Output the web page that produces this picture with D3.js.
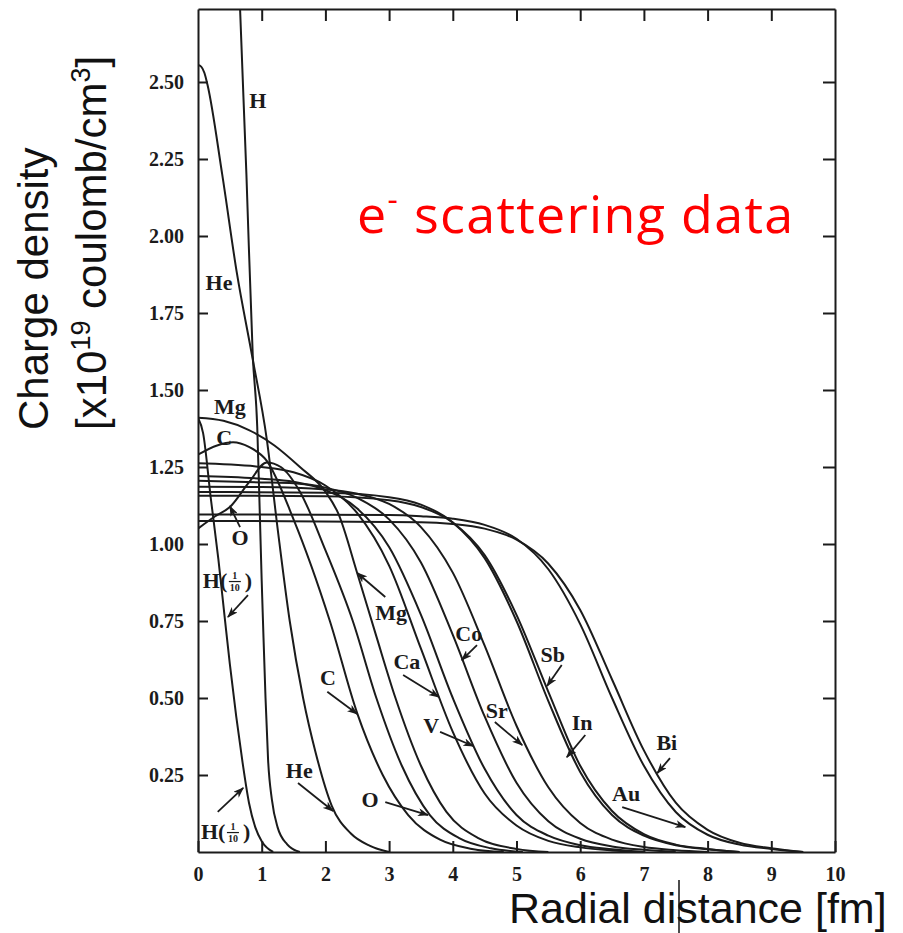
<!DOCTYPE html>
<html>
<head>
<meta charset="utf-8">
<script src="https://cdn.jsdelivr.net/npm/d3@7"></script>
<style>
  body { margin: 0; background: #fff; }
  svg { display: block; }
</style>
</head>
<body>
<svg id="chart"></svg>
<script>
// charge density in units of 1e19 C/cm^3 vs radial distance in fm
const xTickValues = [0, 1, 2, 3, 4, 5, 6, 7, 8, 9, 10];
const yTickValues = [0.25, 0.5, 0.75, 1.0, 1.25, 1.5, 1.75, 2.0, 2.25, 2.5];

const rhoH = [[0.6,3.1],[0.66,2.74],[0.76,2.2],[0.86,1.61],[0.93,1.38],[0.97,1.1],[1.0,0.88],[1.02,0.75],[1.06,0.5],[1.1,0.3],[1.16,0.17],[1.25,0.08],[1.4,0.025],[1.6,0]];
const rhoHtenth = [[0,1.41],[0.08,1.36],[0.2,1.15],[0.32,0.95],[0.42,0.76],[0.5,0.61],[0.6,0.44],[0.7,0.29],[0.8,0.16],[0.9,0.08],[1.0,0.035],[1.18,0]];
const rhoHe = [[0,2.555],[0.05,2.55],[0.1,2.53],[0.15,2.49],[0.38,2.2],[0.61,1.88],[0.85,1.61],[1.08,1.34],[1.25,1.05],[1.44,0.75],[1.65,0.5],[1.85,0.32],[2.1,0.15],[2.4,0.06],[2.7,0.02],[3.0,0]];
const rhoC = [[0,1.29],[0.3,1.32],[0.55,1.33],[0.8,1.315],[1.08,1.27],[1.5,1.08],[2.07,0.75],[2.5,0.45],[2.9,0.25],[3.3,0.12],[3.8,0.04],[4.3,0.01],[4.8,0]];
const rhoO = [[0,1.05],[0.27,1.09],[0.5,1.12],[0.8,1.2],[1.08,1.265],[1.3,1.25],[1.6,1.17],[2.0,0.98],[2.43,0.75],[2.8,0.5],[3.2,0.28],[3.64,0.12],[4.1,0.045],[4.6,0.012],[5.1,0]];
const rhoMg = [[0,1.41],[0.4,1.4],[0.8,1.37],[1.2,1.32],[1.6,1.25],[2.0,1.17],[2.2,1.1],[2.5,0.905],[2.8,0.7],[3.1,0.5],[3.5,0.28],[3.9,0.13],[4.4,0.045],[5.0,0.01],[5.5,0]];
const rhoCa = [[0,1.262],[1,1.25],[1.5,1.233],[2,1.19],[2.5,1.1],[3,0.93],[3.5,0.66],[4,0.39],[4.5,0.19],[5,0.086],[5.5,0.036],[6,0.015],[6.5,0.005],[7,0]];
const rhoV = [[0,1.221],[1,1.212],[1.5,1.202],[2,1.175],[2.5,1.115],[3,0.99],[3.5,0.77],[4,0.5],[4.5,0.27],[5,0.12],[5.5,0.053],[6,0.022],[6.5,0.009],[7,0]];
const rhoCo = [[0,1.205],[1,1.2],[1.5,1.197],[2,1.183],[2.5,1.15],[3,1.08],[3.5,0.94],[4,0.705],[4.5,0.44],[5,0.225],[5.5,0.1],[6,0.043],[6.5,0.018],[7,0.007],[7.5,0]];
const rhoSr = [[0,1.186],[1,1.185],[2,1.177],[2.5,1.163],[3,1.13],[3.5,1.055],[4,0.907],[4.5,0.67],[5,0.41],[5.5,0.21],[6,0.094],[6.5,0.04],[7,0.016],[7.5,0.006],[8,0]];
const rhoIn = [[0,1.169],[2,1.166],[3,1.152],[3.5,1.128],[4,1.07],[4.5,0.954],[5,0.75],[5.5,0.49],[6,0.26],[6.5,0.12],[7,0.053],[7.5,0.022],[8,0.009],[8.5,0]];
const rhoSb = [[0,1.157],[2,1.155],[3,1.142],[3.5,1.12],[4,1.07],[4.5,0.964],[5,0.77],[5.5,0.52],[6,0.28],[6.5,0.133],[7,0.058],[7.5,0.024],[8,0.01],[8.5,0]];
const rhoAu = [[0,1.096],[3,1.094],[3.5,1.09],[4,1.082],[4.5,1.062],[5,1.017],[5.5,0.918],[6,0.74],[6.5,0.5],[7,0.28],[7.5,0.13],[8,0.056],[8.5,0.024],[9,0.01],[9.5,0]];
const rhoBi = [[0,1.075],[3.5,1.071],[4,1.065],[4.5,1.05],[5,1.014],[5.5,0.936],[6,0.786],[6.5,0.56],[7,0.33],[7.5,0.16],[8,0.072],[8.5,0.03],[9,0.012],[9.5,0]];

const allSeries = [rhoH, rhoHtenth, rhoHe, rhoC, rhoO, rhoMg, rhoCa, rhoV, rhoCo, rhoSr, rhoIn, rhoSb, rhoAu, rhoBi];

// element names, anchored in data units
const labelNames = ["H", "He", "Mg", "C", "O", "Mg", "Co", "C", "Ca", "V", "Sr", "Sb", "In", "Bi", "Au", "He", "O"];
const labelX     = [0.94, 0.33, 0.50, 0.41, 0.66, 3.03, 4.25, 2.04, 3.28, 3.66, 4.69, 5.57, 6.03, 7.36, 6.72, 1.59, 2.70];
const labelY     = [2.44, 1.85, 1.448, 1.347, 1.02, 0.779, 0.711, 0.565, 0.62, 0.412, 0.461, 0.64, 0.422, 0.354, 0.19, 0.266, 0.169];
// H(1/10) appears twice
const fracLabelX = [0.50, 0.47];
const fracLabelY = [0.883, 0.068];

// arrows: from near the label to the curve
const arrowFrom = [[0.66,1.055],[0.785,0.834],[2.94,0.828],[4.38,0.672],[2.03,0.52],[3.22,0.575],[3.8,0.39],[4.66,0.422],[5.71,0.607],[6.08,0.38],[7.41,0.305],[6.66,0.146],[1.57,0.224],[2.94,0.162],[0.31,0.13]];
const arrowTo   = [[0.5,1.123],[0.47,0.763],[2.5,0.906],[4.14,0.623],[2.5,0.448],[3.78,0.503],[4.32,0.344],[5.09,0.347],[5.48,0.539],[5.79,0.308],[7.21,0.256],[7.65,0.081],[2.12,0.133],[3.61,0.12],[0.71,0.208]];

const width = 903, height = 933;
const svg = d3.select("#chart").attr("width", width).attr("height", height);
svg.append("rect").attr("width", width).attr("height", height).attr("fill", "#fff");

const x = d3.scaleLinear().domain([0, 10]).range([198, 835]);
const y = d3.scaleLinear().domain([0, 2.737]).range([852, 9]);

const ink = "#1b1b1b";
const serif = "'Liberation Serif', 'Times New Roman', serif";
const sans = "'Liberation Sans', Arial, sans-serif";

svg.append("defs").append("clipPath").attr("id", "plot")
  .append("rect").attr("x", x(0)).attr("y", y(2.737)).attr("width", x(10) - x(0)).attr("height", y(0) - y(2.737));

svg.select("defs").append("marker")
  .attr("id", "head").attr("markerUnits", "userSpaceOnUse")
  .attr("markerWidth", 11).attr("markerHeight", 8)
  .attr("refX", 10).attr("refY", 4).attr("orient", "auto")
  .append("path").attr("d", "M0,0 L11,4 L0,8 L3,4 z").attr("fill", ink);

// frame: four axes with inward ticks
function styleAxis(g) {
  g.select(".domain").attr("stroke", ink).attr("stroke-width", 2);
  g.selectAll(".tick line").attr("stroke", ink).attr("stroke-width", 2);
  g.selectAll(".tick text").attr("fill", ink)
    .style("font-family", serif).style("font-size", "20px").style("font-weight", "bold");
}

svg.append("g").attr("transform", `translate(0,${y(0)})`)
  .call(d3.axisBottom(x).tickValues(xTickValues).tickFormat(d3.format("d"))
    .tickSizeInner(-11).tickSizeOuter(0).tickPadding(15))
  .call(styleAxis);

svg.append("g").attr("transform", `translate(0,${y(2.737)})`)
  .call(d3.axisTop(x).tickValues(xTickValues.slice(1, 10)).tickFormat("")
    .tickSizeInner(-12).tickSizeOuter(0))
  .call(styleAxis);

svg.append("g").attr("transform", `translate(${x(0)},0)`)
  .call(d3.axisLeft(y).tickValues(yTickValues).tickFormat(d3.format(".2f"))
    .tickSizeInner(-10).tickSizeOuter(0).tickPadding(14))
  .call(styleAxis);

svg.append("g").attr("transform", `translate(${x(10)},0)`)
  .call(d3.axisRight(y).tickValues(yTickValues).tickFormat("")
    .tickSizeInner(-12).tickSizeOuter(0))
  .call(styleAxis);

// density curves
const line = d3.line().x(d => x(d[0])).y(d => y(d[1])).curve(d3.curveMonotoneX);
svg.append("g").attr("clip-path", "url(#plot)")
  .selectAll("path").data(allSeries).join("path")
  .attr("d", line).attr("fill", "none").attr("stroke", ink)
  .attr("stroke-width", 2).attr("stroke-linejoin", "round");

// arrows
svg.append("g").selectAll("line").data(d3.range(arrowFrom.length)).join("line")
  .attr("x1", i => x(arrowFrom[i][0])).attr("y1", i => y(arrowFrom[i][1]))
  .attr("x2", i => x(arrowTo[i][0])).attr("y2", i => y(arrowTo[i][1]))
  .attr("stroke", ink).attr("stroke-width", 1.8).attr("marker-end", "url(#head)");

// labels
svg.append("g").selectAll("text").data(labelNames).join("text")
  .attr("x", (d, i) => x(labelX[i])).attr("y", (d, i) => y(labelY[i]))
  .attr("text-anchor", "middle").attr("dominant-baseline", "central")
  .style("font-family", serif).style("font-size", "22px").style("font-weight", "bold")
  .attr("fill", ink).text(d => d);

fracLabelX.forEach((fx, i) => {
  const g = svg.append("g")
    .attr("transform", `translate(${x(fx) - 27},${y(fracLabelY[i]) + 8})`)
    .style("font-family", serif).style("font-weight", "bold").attr("fill", ink);
  g.append("text").attr("x", 0).attr("y", 0).style("font-size", "22px").text("H(");
  g.append("text").attr("x", 32).attr("y", -9).attr("text-anchor", "middle").style("font-size", "10px").text("1");
  g.append("line").attr("x1", 26).attr("x2", 38).attr("y1", -6.5).attr("y2", -6.5)
    .attr("stroke", ink).attr("stroke-width", 1.2);
  g.append("text").attr("x", 32).attr("y", 3).attr("text-anchor", "middle").style("font-size", "10px").text("10");
  g.append("text").attr("x", 42).attr("y", 0).style("font-size", "22px").text(")");
});

// axis titles
const yt = svg.append("text").attr("transform", "translate(48,430) rotate(-90)")
  .style("font-family", sans).style("font-size", "42px").attr("fill", "#111");
yt.append("tspan").text("Charge density");

const yt2 = svg.append("text").attr("transform", "translate(106,430) rotate(-90)")
  .style("font-family", sans).style("font-size", "42px").attr("fill", "#111");
yt2.append("tspan").text("[x10");
yt2.append("tspan").attr("dy", -16).style("font-size", "27px").text("19");
yt2.append("tspan").attr("dy", 16).text(" coulomb/cm");
yt2.append("tspan").attr("dy", -16).style("font-size", "27px").text("3");
yt2.append("tspan").attr("dy", 16).text("]");

svg.append("text").attr("x", 509).attr("y", 923)
  .style("font-family", sans).style("font-size", "43px").attr("fill", "#111")
  .text("Radial distance [fm]");
// stray cursor mark in the scanned title
svg.append("line").attr("x1", 679).attr("x2", 679).attr("y1", 880).attr("y2", 933)
  .attr("stroke", "#111").attr("stroke-width", 1.5);

// red annotation
const rt = svg.append("text").attr("x", 357).attr("y", 233)
  .style("font-family", "'Open Sans', sans-serif").style("font-size", "52px")
  .style("letter-spacing", "1.3px").attr("fill", "#f00");
rt.append("tspan").text("e");
rt.append("tspan").attr("dy", -22).style("font-size", "32px").text("-");
rt.append("tspan").attr("dy", 22).text(" scattering data");
</script>
</body>
</html>
